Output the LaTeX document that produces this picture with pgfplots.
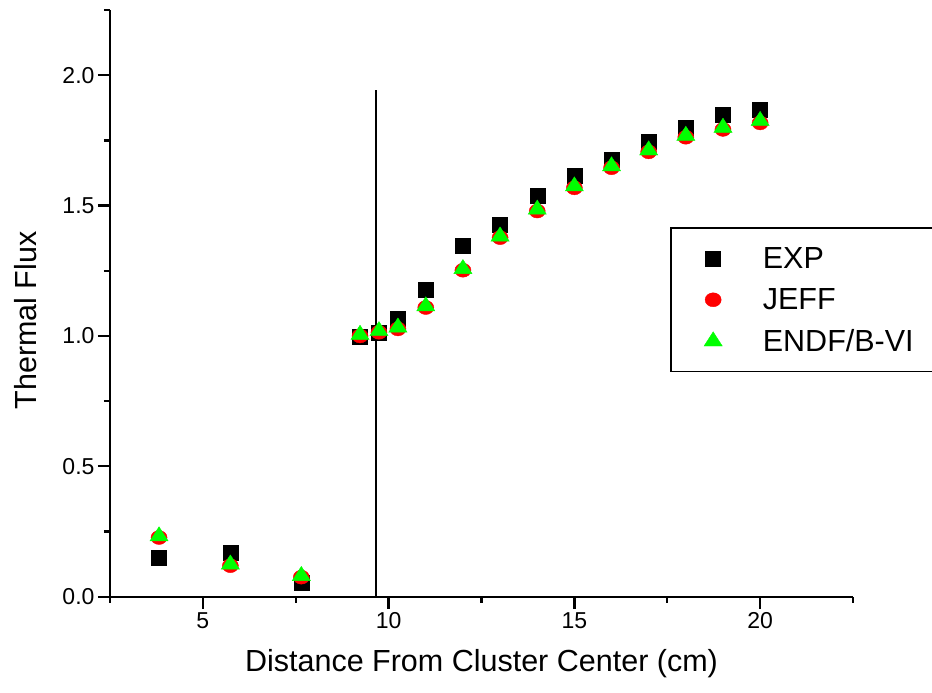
\documentclass[border=0pt]{standalone}
\usepackage{pgfplots}
\pgfplotsset{compat=1.18}
\usepackage{fontspec}
\setmainfont{Liberation Sans}
\definecolor{jeffred}{RGB}{255,0,0}
\definecolor{endfgreen}{RGB}{0,255,0}

\begin{document}
\begin{tikzpicture}
\begin{axis}[
  scale only axis,
  width=743pt, height=586.7pt,
  xmin=2.5, xmax=22.5, ymin=0, ymax=2.25,
  axis lines=left,
  axis line style={-, line width=2.3pt},
  xtick={5,10,15,20}, minor xtick={2.5,7.5,12.5,17.5,22.5},
  ytick={0,0.5,1,1.5,2}, minor ytick={0.25,0.75,1.25,1.75,2.25},
  tick align=outside,
  major tick length=12pt, minor tick length=6pt,
  every major tick/.append style={black, line width=2.3pt},
  every minor tick/.append style={black, line width=2.3pt},
  /pgf/number format/assume math mode=true,
  tick label style={font=\fontsize{23}{23}\selectfont},
  yticklabel style={/pgf/number format/.cd, fixed, fixed zerofill, precision=1},
  xlabel={Distance From Cluster Center (cm)},
  ylabel={Thermal Flux},
  label style={font=\fontsize{30.5}{30.5}\selectfont},
  xlabel style={at={(rel axis cs:0.5,-0.1283)}, anchor=base},
  ylabel style={at={(rel axis cs:-0.0989,0.4707)}, anchor=base, rotate=0},
  legend cell align=left,
  legend image code/.code={
    \path[draw=none, fill=none] (-10pt,-11pt) rectangle (10pt,11pt);
    \draw[#1, line width=0.4pt] plot coordinates {(0pt,0pt)};
  },
  legend style={
    name=lgd,
    at={(rel axis cs:0.755,0.6283)}, anchor=north west,
    draw=none,
    inner xsep=32pt, inner ysep=15pt, row sep=11.5pt,
    nodes={inner sep=0pt, text height=25pt, text depth=5pt},
    font=\fontsize{30.5}{30.5}\selectfont,
    /tikz/every odd column/.append style={column sep=39.7pt},
  },
]
\addplot[forget plot, black, line width=1.3pt] coordinates {(9.66,0) (9.66,1.942)};

\addplot[only marks, color=black, mark=square*, mark size=7.5pt] coordinates {
  (3.82,0.149) (5.74,0.168) (7.65,0.054) (9.23,0.997) (9.74,1.014) (10.25,1.065)
  (11,1.177) (12,1.347) (13,1.425) (14,1.538) (15,1.616) (16,1.676)
  (17,1.745) (18,1.797) (19,1.847) (20,1.866)};
\addlegendentry{EXP}

\addplot[only marks, color=jeffred, mark=*, mark size=7pt, mark options={xscale=1.15}] coordinates {
  (3.82,0.227) (5.74,0.119) (7.65,0.075) (9.23,1.000) (9.74,1.014) (10.25,1.027)
  (11,1.109) (12,1.252) (13,1.377) (14,1.479) (15,1.568) (16,1.645)
  (17,1.706) (18,1.762) (19,1.792) (20,1.817)};
\addlegendentry{JEFF}

\addplot[only marks, color=endfgreen, mark=triangle*, mark size=10.5pt, mark options={yscale=0.9}] coordinates {
  (3.82,0.232) (5.74,0.124) (7.65,0.080) (9.23,1.005) (9.74,1.019) (10.25,1.033)
  (11,1.114) (12,1.257) (13,1.382) (14,1.485) (15,1.574) (16,1.651)
  (17,1.712) (18,1.768) (19,1.799) (20,1.825)};
\addlegendentry{ENDF/B-VI}
\end{axis}
% legend frame runs past the right edge of the page, as in the original
\draw[line width=1.3pt] ([xshift=300pt]lgd.north west) -- (lgd.north west) -- (lgd.south west) -- ([xshift=300pt]lgd.south west);
\pgfresetboundingbox
\path[use as bounding box] ([xshift=-110pt,yshift=-95.3pt]current axis.south west) rectangle ([xshift=79pt,yshift=10pt]current axis.north east);
\end{tikzpicture}
\end{document}
